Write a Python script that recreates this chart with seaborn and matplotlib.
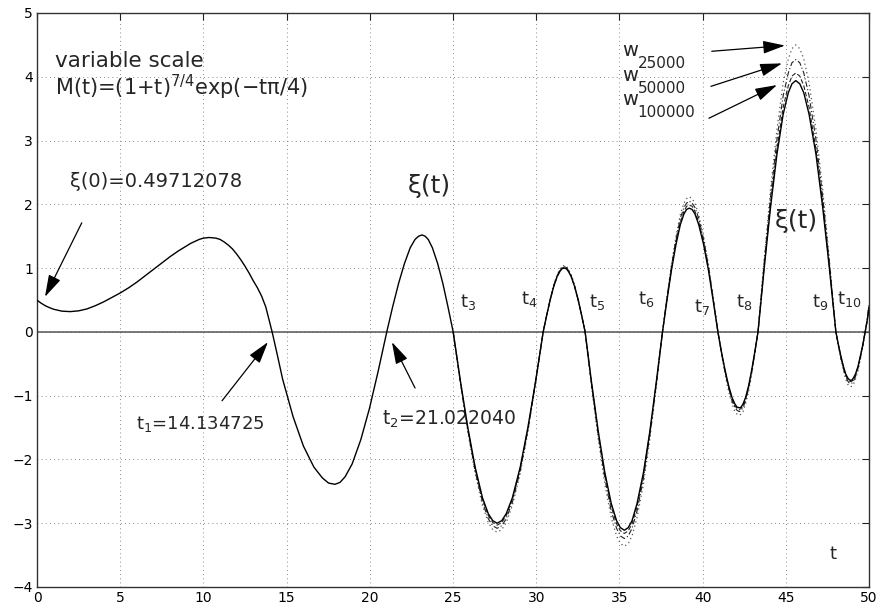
import numpy as np
import pandas as pd
import matplotlib
matplotlib.use("Agg")
import matplotlib.pyplot as plt
import seaborn as sns

# ---------------- data ----------------
t_xi = [0, 0.25, 0.5, 0.75, 1, 1.5, 2, 2.5, 3, 3.5, 4, 4.5, 5, 5.5, 6, 6.5, 7, 7.5, 8, 8.5,
        9, 9.25, 9.5, 9.75, 10, 10.35, 10.75, 11, 11.25, 11.5, 11.75, 12, 12.25, 12.5, 12.75,
        13, 13.25, 13.5, 13.75,
        14.13, 14.45, 14.76, 15.39, 16.01, 16.64, 17.15, 17.52, 17.9,
        18.21, 18.52, 18.94, 19.46, 19.98, 20.50, 21.02,
        21.37, 21.73, 22.08, 22.43, 22.72, 22.93, 23.14,
        23.33, 23.51, 23.76, 24.08, 24.39, 24.70, 25.01,
        25.45, 25.89, 26.33, 26.77, 27.12, 27.39, 27.65,
        27.93, 28.20, 28.57, 29.04, 29.50, 29.96, 30.42,
        30.63, 30.84, 31.05, 31.26, 31.43, 31.55, 31.68,
        31.81, 31.93, 32.10, 32.31, 32.52, 32.73, 32.94,
        33.33, 33.73, 34.12, 34.51, 34.83, 35.06, 35.30,
        35.53, 35.76, 36.06, 36.45, 36.83, 37.21, 37.59,
        37.86, 38.13, 38.40, 38.66, 38.88, 39.04, 39.20,
        39.37, 39.54, 39.77, 40.06, 40.35, 40.63, 40.92,
        41.13, 41.35, 41.56, 41.77, 41.94, 42.07, 42.20,
        42.31, 42.43, 42.58, 42.77, 42.95, 43.14, 43.33,
        43.71, 44.09, 44.47, 44.84, 45.15, 45.37, 45.60,
        45.84, 46.08, 46.40, 46.81, 47.21, 47.61, 48.01,
        48.16, 48.31, 48.46, 48.60, 48.72, 48.81, 48.90,
        48.99, 49.07, 49.19, 49.34, 49.48, 49.63, 49.77,
        49.90, 50.0]

y_xi = [0.497, 0.45, 0.41, 0.38, 0.355, 0.325, 0.318, 0.33, 0.36, 0.41, 0.47, 0.54, 0.61, 0.69, 0.78, 0.88, 0.98, 1.08, 1.18, 1.27,
        1.35, 1.39, 1.42, 1.45, 1.47, 1.48, 1.47, 1.45, 1.41, 1.36, 1.30, 1.22, 1.13, 1.03, 0.92,
        0.80, 0.69, 0.56, 0.39,
        0, -0.37, -0.74, -1.33, -1.79, -2.12, -2.29, -2.37, -2.39,
        -2.36, -2.27, -2.07, -1.69, -1.20, -0.62, 0,
        0.39, 0.76, 1.07, 1.32, 1.45, 1.50, 1.52,
        1.50, 1.45, 1.32, 1.07, 0.76, 0.39, 0,
        -0.78, -1.50, -2.12, -2.60, -2.85, -2.96, -3.00,
        -2.96, -2.85, -2.60, -2.12, -1.50, -0.78, 0,
        0.26, 0.50, 0.71, 0.87, 0.95, 0.99, 1.00,
        0.99, 0.95, 0.87, 0.71, 0.50, 0.26, 0,
        -0.80, -1.56, -2.20, -2.69, -2.96, -3.07, -3.11,
        -3.07, -2.96, -2.69, -2.20, -1.56, -0.80, 0,
        0.50, 0.97, 1.37, 1.68, 1.85, 1.92, 1.94,
        1.92, 1.85, 1.68, 1.37, 0.97, 0.50, 0,
        -0.31, -0.60, -0.84, -1.03, -1.13, -1.18, -1.19,
        -1.18, -1.13, -1.03, -0.84, -0.60, -0.31, 0,
        1.02, 1.97, 2.79, 3.41, 3.75, 3.89, 3.94,
        3.89, 3.75, 3.41, 2.79, 1.97, 1.02, 0,
        -0.20, -0.38, -0.54, -0.66, -0.72, -0.75, -0.76,
        -0.75, -0.72, -0.66, -0.54, -0.38, -0.20, 0,
        0.19, 0.38]

t_w = [25.01,
       25.45, 25.89, 26.33, 26.77, 27.12, 27.39, 27.65,
       27.93, 28.20, 28.57, 29.04, 29.50, 29.96, 30.42,
       30.63, 30.84, 31.05, 31.26, 31.43, 31.55, 31.68,
       31.81, 31.93, 32.10, 32.31, 32.52, 32.73, 32.94,
       33.33, 33.73, 34.12, 34.51, 34.83, 35.06, 35.30,
       35.53, 35.76, 36.06, 36.45, 36.83, 37.21, 37.59,
       37.86, 38.13, 38.40, 38.66, 38.88, 39.04, 39.20,
       39.37, 39.54, 39.77, 40.06, 40.35, 40.63, 40.92,
       41.13, 41.35, 41.56, 41.77, 41.94, 42.07, 42.20,
       42.31, 42.43, 42.58, 42.77, 42.95, 43.14, 43.33,
       43.71, 44.09, 44.47, 44.84, 45.15, 45.37, 45.60,
       45.84, 46.08, 46.40, 46.81, 47.21, 47.61, 48.01,
       48.16, 48.31, 48.46, 48.60, 48.72, 48.81, 48.90,
       48.99, 49.07, 49.19, 49.34, 49.48, 49.63, 49.77,
       49.90, 50.0]

w25000 = [0,
          -0.81, -1.57, -2.22, -2.72, -2.99, -3.10, -3.14,
          -3.10, -2.99, -2.72, -2.22, -1.57, -0.81, 0,
          0.27, 0.52, 0.74, 0.90, 0.99, 1.03, 1.04,
          1.03, 0.99, 0.90, 0.74, 0.52, 0.27, 0,
          -0.87, -1.68, -2.38, -2.91, -3.20, -3.32, -3.36,
          -3.32, -3.20, -2.91, -2.38, -1.68, -0.87, 0,
          0.55, 1.06, 1.50, 1.84, 2.02, 2.09, 2.12,
          2.09, 2.02, 1.84, 1.50, 1.06, 0.55, 0,
          -0.34, -0.66, -0.93, -1.13, -1.25, -1.29, -1.31,
          -1.29, -1.25, -1.13, -0.93, -0.66, -0.34, 0,
          1.16, 2.25, 3.18, 3.90, 4.28, 4.44, 4.50,
          4.44, 4.28, 3.90, 3.18, 2.25, 1.16, 0,
          -0.22, -0.43, -0.61, -0.74, -0.82, -0.85, -0.86,
          -0.85, -0.82, -0.74, -0.61, -0.43, -0.22, 0,
          0.21, 0.44]

w50000 = [0,
          -0.80, -1.54, -2.18, -2.67, -2.93, -3.04, -3.08,
          -3.04, -2.93, -2.67, -2.18, -1.54, -0.80, 0,
          0.26, 0.51, 0.72, 0.88, 0.97, 1.01, 1.02,
          1.01, 0.97, 0.88, 0.72, 0.51, 0.26, 0,
          -0.84, -1.62, -2.29, -2.81, -3.08, -3.20, -3.24,
          -3.20, -3.08, -2.81, -2.29, -1.62, -0.84, 0,
          0.53, 1.03, 1.45, 1.78, 1.95, 2.02, 2.05,
          2.02, 1.95, 1.78, 1.45, 1.03, 0.53, 0,
          -0.32, -0.63, -0.88, -1.08, -1.19, -1.23, -1.25,
          -1.23, -1.19, -1.08, -0.88, -0.63, -0.32, 0,
          1.11, 2.14, 3.02, 3.70, 4.06, 4.22, 4.27,
          4.22, 4.06, 3.70, 3.02, 2.14, 1.11, 0,
          -0.21, -0.41, -0.57, -0.70, -0.77, -0.80, -0.81,
          -0.80, -0.77, -0.70, -0.57, -0.41, -0.21, 0,
          0.20, 0.42]

w100000 = [0,
           -0.78, -1.52, -2.14, -2.62, -2.88, -2.99, -3.03,
           -2.99, -2.88, -2.62, -2.14, -1.52, -0.78, 0,
           0.26, 0.51, 0.71, 0.87, 0.96, 1.00, 1.01,
           1.00, 0.96, 0.87, 0.71, 0.51, 0.26, 0,
           -0.82, -1.58, -2.23, -2.74, -3.01, -3.12, -3.16,
           -3.12, -3.01, -2.74, -2.23, -1.58, -0.82, 0,
           0.52, 1.00, 1.41, 1.72, 1.89, 1.97, 1.99,
           1.97, 1.89, 1.72, 1.41, 1.00, 0.52, 0,
           -0.32, -0.61, -0.86, -1.06, -1.16, -1.20, -1.22,
           -1.20, -1.16, -1.06, -0.86, -0.61, -0.32, 0,
           1.05, 2.03, 2.87, 3.52, 3.86, 4.01, 4.06,
           4.01, 3.86, 3.52, 2.87, 2.03, 1.05, 0,
           -0.20, -0.39, -0.55, -0.68, -0.74, -0.77, -0.78,
           -0.77, -0.74, -0.68, -0.55, -0.39, -0.20, 0,
           0.19, 0.41]

zero_labels = ["t$_3$", "t$_4$", "t$_5$", "t$_6$", "t$_7$", "t$_8$", "t$_9$", "t$_{10}$"]
zero_label_t = [25.4, 29.1, 33.2, 36.1, 39.5, 42.0, 46.6, 48.1]
zero_label_y = [0.39, 0.44, 0.39, 0.44, 0.31, 0.39, 0.39, 0.44]

w_names = ["25000", "50000", "100000"]
w_label_y = [4.32, 3.93, 3.555]
w_sub_y = [4.135, 3.74, 3.37]

x_ticks = list(range(0, 51, 5))
y_ticks = list(range(-4, 6))

# ---------------- style ----------------
sns.set_theme(style="white")
plt.rcParams["font.family"] = ["DejaVu Sans"]
plt.rcParams["mathtext.fontset"] = "dejavusans"
plt.rcParams["mathtext.default"] = "regular"

fig = plt.figure(figsize=(8.88, 6.07), dpi=100)
ax = fig.add_axes([37 / 888, 20 / 607, 832 / 888, 574 / 607])

ax.axhline(0, color="#555555", lw=1.1, zorder=1)

df_xi = pd.DataFrame({"t": t_xi, "v": y_xi})
sns.lineplot(data=df_xi, x="t", y="v", ax=ax, color="black", lw=1.0,
             estimator=None, sort=False, zorder=4)

df_w = pd.DataFrame({"t": t_w, "w25000": w25000, "w50000": w50000, "w100000": w100000})
sns.lineplot(data=df_w, x="t", y="w25000", ax=ax, color="#555555", lw=0.9,
             linestyle=(0, (1, 2.5)), estimator=None, sort=False, zorder=3)
sns.lineplot(data=df_w, x="t", y="w50000", ax=ax, color="#222222", lw=0.8,
             linestyle=(0, (5, 2, 1, 2)), estimator=None, sort=False, zorder=3)
sns.lineplot(data=df_w, x="t", y="w100000", ax=ax, color="#222222", lw=0.8,
             linestyle=(0, (4, 2)), estimator=None, sort=False, zorder=3)

ax.set_xlim(0, 50)
ax.set_ylim(-4, 5)
ax.set_xticks(x_ticks)
ax.set_yticks(y_ticks)
ax.set_xlabel("")
ax.set_ylabel("")
ax.grid(True, color="#666666", linestyle=(0, (1, 4)), lw=0.6)
for s in ax.spines.values():
    s.set_visible(True)
    s.set_color("#333333")
    s.set_linewidth(1.0)
ax.tick_params(direction="in", length=5, width=0.8, top=True, right=True,
               labelsize=10, colors="#222222", pad=3)
ax.tick_params(axis="both", labelcolor="black")

# ---------------- annotations ----------------
ax.text(1.08, 4.15, "variable scale", fontsize=15.5, ha="left", va="baseline")
ax.text(1.08, 3.71, "M(t)=(1+t)$^{7/4}$exp(\u2212t\u03c0/4)", fontsize=15, ha="left", va="baseline")
ax.text(1.98, 2.27, "\u03be(0)=0.49712078", fontsize=14, ha="left", va="baseline")
ax.text(22.3, 2.18, "\u03be(t)", fontsize=18, ha="left", va="baseline")
ax.text(44.35, 1.63, "\u03be(t)", fontsize=18, ha="left", va="baseline")
ax.text(13.7, -1.53, "t$_1$=14.134725", fontsize=13, ha="right", va="baseline")
ax.text(20.73, -1.46, "t$_2$=21.022040", fontsize=13.5, ha="left", va="baseline")
for lab, tx, ty in zip(zero_labels, zero_label_t, zero_label_y):
    ax.text(tx, ty, lab, fontsize=13, ha="left", va="baseline")
ax.text(47.83, -3.49, "t", fontsize=13, ha="center", va="center")
for name, ly, sy in zip(w_names, w_label_y, w_sub_y):
    ax.text(35.15, ly, "w", fontsize=14, ha="left", va="baseline")
    ax.text(36.1, sy, name, fontsize=11, ha="left", va="baseline")

arrow_kw = dict(arrowstyle="-|>,head_length=0.75,head_width=0.22", color="black",
                lw=0.9, mutation_scale=18, shrinkA=0, shrinkB=0)
arrows = [((0.48, 0.55), (2.69, 1.71)),
          ((13.88, -0.16), (11.12, -1.08)),
          ((21.33, -0.16), (22.72, -0.88)),
          ((44.95, 4.49), (40.55, 4.40)),
          ((44.77, 4.21), (40.50, 3.85)),
          ((44.47, 3.87), (40.38, 3.35))]
for head, tail in arrows:
    ax.annotate("", xy=head, xytext=tail, arrowprops=arrow_kw, zorder=5)

fig.savefig("out.png", dpi=100, facecolor="white")
